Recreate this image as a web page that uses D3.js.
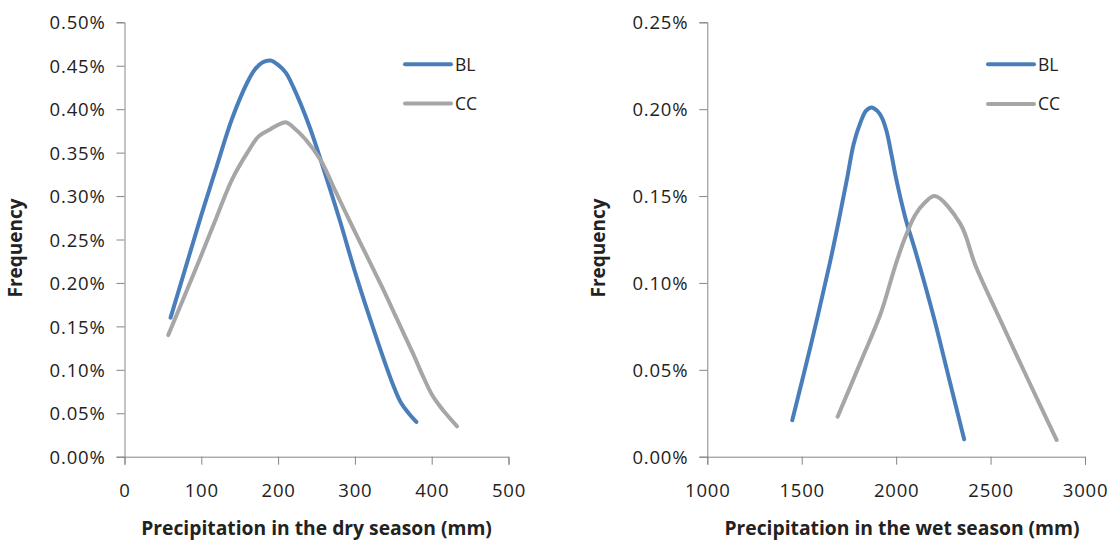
<!DOCTYPE html>
<html>
<head>
<meta charset="utf-8">
<script src="https://cdn.jsdelivr.net/npm/d3@7"></script>
<style>
  html, body { margin: 0; padding: 0; background: #fff; }
  svg { display: block; }
  text { font-family: "Open Sans", "Liberation Sans", sans-serif; fill: #222; }
</style>
</head>
<body>
<svg id="chart" width="1111" height="542"></svg>
<script>
// ---- Data ----
const dryBL_x = [60, 80, 100, 120, 140, 160, 170, 180, 190, 200, 210, 220, 240, 260, 280, 300, 320, 340, 350, 360, 370, 380];
const dryBL_y = [0.160, 0.219, 0.278, 0.334, 0.389, 0.431, 0.446, 0.454, 0.456, 0.451, 0.442, 0.425, 0.382, 0.329, 0.273, 0.213, 0.158, 0.106, 0.082, 0.062, 0.050, 0.040];

const dryCC_x = [57, 80, 100, 120, 140, 160, 175, 190, 200, 210, 220, 235, 255, 275, 295, 315, 335, 355, 375, 390, 400, 410, 420, 433];
const dryCC_y = [0.140, 0.189, 0.232, 0.276, 0.319, 0.350, 0.369, 0.377, 0.382, 0.385, 0.379, 0.366, 0.342, 0.305, 0.268, 0.232, 0.196, 0.158, 0.120, 0.090, 0.072, 0.059, 0.048, 0.035];

const wetBL_x = [1450, 1550, 1650, 1700, 1740, 1775, 1810, 1840, 1870, 1900, 1925, 1950, 1975, 2000, 2050, 2100, 2200, 2280, 2360];
const wetBL_y = [0.021, 0.065, 0.112, 0.138, 0.160, 0.180, 0.192, 0.199, 0.201, 0.199, 0.195, 0.187, 0.174, 0.160, 0.137, 0.119, 0.080, 0.045, 0.010];

const wetCC_x = [1690, 1810, 1920, 1990, 2040, 2100, 2150, 2205, 2340, 2420, 2550, 2700, 2850];
const wetCC_y = [0.023, 0.054, 0.083, 0.108, 0.124, 0.139, 0.146, 0.150, 0.134, 0.110, 0.079, 0.044, 0.0096];

const seriesNames = ["BL", "CC"];
const seriesColors = ["#4a7ebb", "#a6a6a6"];

const dryXTicks = [0, 100, 200, 300, 400, 500];
const dryYTicks = [0, 0.05, 0.10, 0.15, 0.20, 0.25, 0.30, 0.35, 0.40, 0.45, 0.50];
const wetXTicks = [1000, 1500, 2000, 2500, 3000];
const wetYTicks = [0, 0.05, 0.10, 0.15, 0.20, 0.25];

const dryTitle = "Precipitation in the dry season (mm)";
const wetTitle = "Precipitation in the wet season (mm)";
const yTitle = "Frequency";

// ---- Drawing ----
const svg = d3.select("#chart");
const zip = (xs, ys) => xs.map((x, i) => [x, ys[i]]);

function panel(cfg) {
  const x = d3.scaleLinear().domain(cfg.xDomain).range([cfg.left, cfg.right]);
  const y = d3.scaleLinear().domain(cfg.yDomain).range([cfg.bottom, cfg.top]);
  const g = svg.append("g");

  const yAxis = g.append("g")
    .attr("transform", `translate(${cfg.left},0)`)
    .call(d3.axisLeft(y).tickValues(cfg.yTicks).tickSize(8).tickPadding(11)
      .tickFormat(d => d.toFixed(2) + "%"));
  const xAxis = g.append("g")
    .attr("transform", `translate(0,${cfg.bottom})`)
    .call(d3.axisBottom(x).tickValues(cfg.xTicks).tickSize(8).tickPadding(19)
      .tickFormat(d => String(d)));

  [yAxis, xAxis].forEach(a => {
    a.select(".domain").attr("stroke", "#868686").attr("stroke-width", 1);
    a.selectAll(".tick line").attr("stroke", "#868686");
    a.selectAll(".tick text")
      .style("font-family", '"Open Sans", sans-serif')
      .style("font-size", "18.5px")
      .style("letter-spacing", "0.8px")
      .attr("fill", "#222");
  });
  yAxis.selectAll(".tick text").attr("dy", "0.36em");
  xAxis.selectAll(".tick text").attr("dy", "0.71em");

  const line = d3.line().x(d => x(d[0])).y(d => y(d[1])).curve(d3.curveCatmullRom.alpha(0.5));
  cfg.series.forEach((s, i) => {
    g.append("path")
      .attr("d", line(s))
      .attr("fill", "none")
      .attr("stroke", seriesColors[i])
      .attr("stroke-width", 4)
      .attr("stroke-linecap", "round")
      .attr("stroke-linejoin", "round");
  });

  // legend
  seriesNames.forEach((name, i) => {
    const ly = cfg.legendY[i];
    g.append("line")
      .attr("x1", cfg.legendX).attr("x2", cfg.legendX + 46)
      .attr("y1", ly).attr("y2", ly)
      .attr("stroke", seriesColors[i]).attr("stroke-width", 4)
      .attr("stroke-linecap", "round");
    g.append("text")
      .attr("x", cfg.legendX + 50).attr("y", ly).attr("dy", "0.36em")
      .style("font-size", "17.5px")
      .text(name);
  });

  // x title
  g.append("text")
    .attr("x", cfg.xTitleX).attr("y", 535)
    .attr("text-anchor", "middle")
    .style("font-size", "19.3px").style("font-weight", "bold")
    .text(cfg.xTitle);
  // y title
  g.append("text")
    .attr("transform", `translate(${cfg.yTitleX},248) rotate(-90)`)
    .attr("text-anchor", "middle")
    .style("font-size", "19px").style("font-weight", "bold")
    .text(yTitle);
}

panel({
  left: 124.5, right: 508.5, top: 22.3, bottom: 456.7,
  xDomain: [0, 500], yDomain: [0, 0.5],
  xTicks: dryXTicks, yTicks: dryYTicks,
  series: [zip(dryBL_x, dryBL_y), zip(dryCC_x, dryCC_y)],
  legendX: 405, legendY: [64.3, 103.5],
  xTitle: dryTitle, xTitleX: 316.5, yTitleX: 22
});

panel({
  left: 707.3, right: 1085, top: 22.3, bottom: 456.7,
  xDomain: [1000, 3000], yDomain: [0, 0.25],
  xTicks: wetXTicks, yTicks: wetYTicks,
  series: [zip(wetBL_x, wetBL_y), zip(wetCC_x, wetCC_y)],
  legendX: 988, legendY: [64.3, 104],
  xTitle: wetTitle, xTitleX: 902, yTitleX: 605
});
</script>
</body>
</html>
